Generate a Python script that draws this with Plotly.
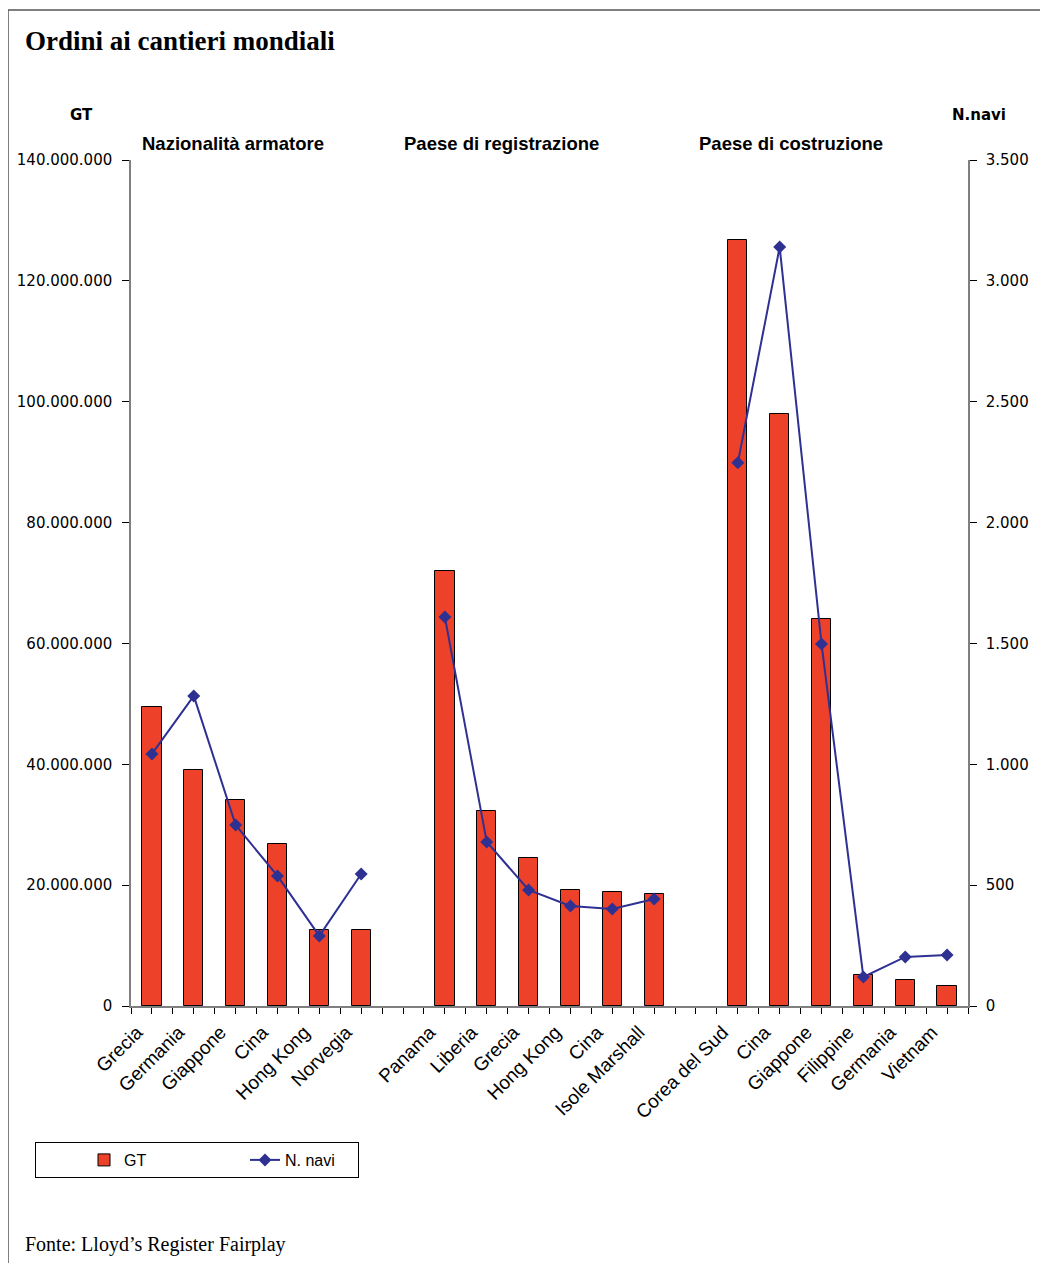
import plotly.graph_objects as go

# ---- data ----
categories = ["Grecia", "Germania", "Giappone", "Cina", "Hong Kong", "Norvegia", "",
              "Panama", "Liberia", "Grecia", "Hong Kong", "Cina", "Isole Marshall", "",
              "Corea del Sud", "Cina", "Giappone", "Filippine", "Germania", "Vietnam"]
gt_values = [49.5e6, 39.1e6, 34.1e6, 26.8e6, 12.6e6, 12.5e6, None,
             72.0e6, 32.3e6, 24.5e6, 19.2e6, 18.9e6, 18.5e6, None,
             126.8e6, 98.0e6, 64.0e6, 5.1e6, 4.3e6, 3.3e6]
n_navi = [1043, 1283, 749, 538, 290, 546, None,
          1609, 679, 480, 414, 401, 443, None,
          2247, 3140, 1498, 120, 203, 211]
group_titles = ["Nazionalità armatore", "Paese di registrazione", "Paese di costruzione"]
left_tickvals = [0, 20e6, 40e6, 60e6, 80e6, 100e6, 120e6, 140e6]
left_ticktext = ["0", "20.000.000", "40.000.000", "60.000.000", "80.000.000",
                 "100.000.000", "120.000.000", "140.000.000"]
right_tickvals = [0, 500, 1000, 1500, 2000, 2500, 3000, 3500]
right_ticktext = ["0", "500", "1.000", "1.500", "2.000", "2.500", "3.000", "3.500"]

# ---- layout geometry (page pixels; page body has an 8px margin) ----
OFF = 8
W, H = 1048 - OFF, 1263 - OFF
L, R, T, B = 131, 968, 160, 1006   # plot area in page coords
pw, ph = R - L, B - T


def px(x):
    return (x - L) / pw


def py(y):
    return (B - y) / ph


xs = list(range(len(categories)))
tickvals, ticktext = [], []
for i in range(len(categories)):
    tickvals += [i - 0.5, i]
    ticktext += ["", categories[i]]
tickvals.append(len(categories) - 0.5)
ticktext.append("")

fig = go.Figure()
fig.add_trace(go.Bar(
    x=xs, y=gt_values, name="GT", width=0.46,
    marker=dict(color="#EE4129", line=dict(color="black", width=1)),
    yaxis="y",
))
fig.add_trace(go.Scatter(
    x=xs, y=n_navi, name="N. navi", mode="lines+markers", connectgaps=False,
    line=dict(color="#2E3192", width=2),
    marker=dict(symbol="diamond", size=10, color="#2E3192"),
    yaxis="y2",
))

axis_color = "#7f7f7f"
fig.update_layout(
    width=W, height=H,
    margin=dict(l=L - OFF, r=1048 - R, t=T - OFF, b=1263 - B, autoexpand=False),
    paper_bgcolor="white", plot_bgcolor="white",
    showlegend=True,
    bargap=0,
    xaxis=dict(
        range=[-0.5, len(categories) - 0.5], automargin=False,
        tickmode="array", tickvals=tickvals, ticktext=ticktext,
        tickangle=-45, ticks="outside", ticklen=6, tickcolor="black",
        tickfont=dict(family="Liberation Sans, Arial", size=19, color="black"),
        ticklabelshift=-15, ticklabelstandoff=0,
        showline=True, linecolor=axis_color, linewidth=1.5,
        showgrid=False, zeroline=False,
    ),
    yaxis=dict(
        range=[0, 140e6], automargin=False,
        tickmode="array", tickvals=left_tickvals, ticktext=left_ticktext,
        ticks="outside", ticklen=7, tickcolor="black",
        tickfont=dict(family="DejaVu Sans, Verdana", size=15, color="black"),
        ticklabelstandoff=7,
        showline=True, linecolor=axis_color, linewidth=1.5,
        showgrid=False, zeroline=False,
    ),
    yaxis2=dict(
        range=[0, 3500], overlaying="y", side="right", automargin=False,
        tickmode="array", tickvals=right_tickvals, ticktext=right_ticktext,
        ticks="outside", ticklen=7, tickcolor="black",
        tickfont=dict(family="DejaVu Sans, Verdana", size=15, color="black"),
        ticklabelstandoff=6,
        showline=True, linecolor=axis_color, linewidth=1.5,
        showgrid=False, zeroline=False,
    ),
    legend=dict(
        orientation="h", x=px(35), y=py(1142), xanchor="left", yanchor="top",
        bordercolor="black", borderwidth=1, bgcolor="white",
        font=dict(family="Liberation Sans, Arial", size=16, color="black"),
        entrywidth=68, indentation=48, tracegroupgap=0,
    ),
)

annotations = [
    dict(text="<b>Ordini ai cantieri mondiali</b>", x=px(23), y=py(41),
         font=dict(family="Liberation Serif, Times New Roman", size=27, color="black"),
         xanchor="left", yanchor="middle"),
    dict(text="<b>GT</b>", x=px(81), y=py(115),
         font=dict(family="DejaVu Sans", size=15, color="black"),
         xanchor="center", yanchor="middle"),
    dict(text="<b>N.navi</b>", x=px(979), y=py(115),
         font=dict(family="DejaVu Sans", size=15, color="black"),
         xanchor="center", yanchor="middle"),
    dict(text="Fonte: Lloyd’s Register Fairplay", x=px(23), y=py(1244),
         font=dict(family="Liberation Serif, Times New Roman", size=20, color="black"),
         xanchor="left", yanchor="middle"),
]
for title, cx in zip(group_titles, [233, 501, 791]):
    annotations.append(dict(text="<b>" + title + "</b>", x=px(cx), y=py(144),
                            font=dict(family="Liberation Sans, Arial", size=18.5, color="black"),
                            xanchor="center", yanchor="middle"))
for a in annotations:
    a.update(xref="paper", yref="paper", showarrow=False)
fig.update_layout(annotations=annotations)

# frame border (top and left)
fig.add_shape(type="line", xref="paper", yref="paper", x0=px(8), x1=px(1048), y0=py(10), y1=py(10),
              line=dict(color="#555555", width=1.5))
fig.add_shape(type="line", xref="paper", yref="paper", x0=px(8), x1=px(8), y0=py(10), y1=py(1263),
              line=dict(color="#555555", width=1.5))

fig.write_html("out.html")
